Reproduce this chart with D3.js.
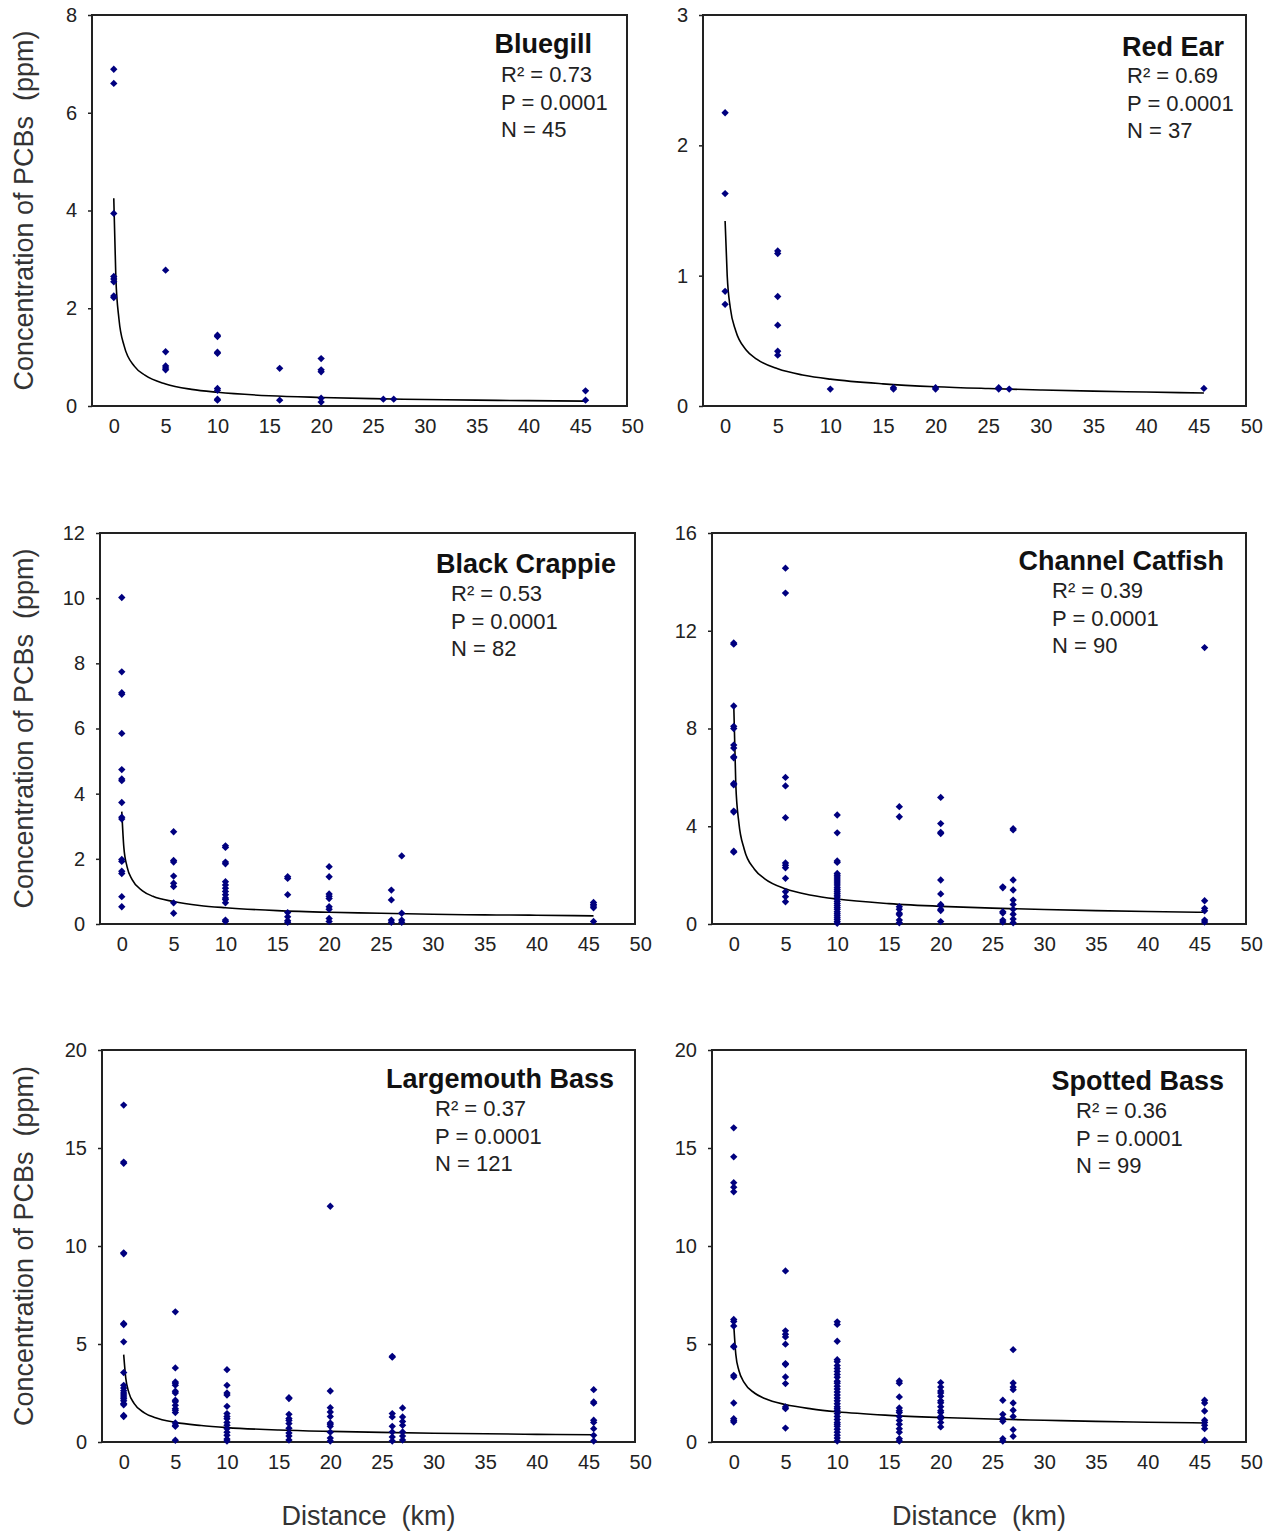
<!DOCTYPE html>
<html>
<head>
<meta charset="utf-8">
<script src="https://cdn.jsdelivr.net/npm/d3@7"></script>
<style>
  body { margin: 0; background: #fff; }
  text { font-family: "Liberation Sans", Arial, sans-serif; }
</style>
</head>
<body>
<div id="chart"></div>
<script>
// sampling sites along the river (km), shared by all six panels
const sites = [0, 5, 10, 16, 20, 26, 27, 45.5];
const xTicks = [0, 5, 10, 15, 20, 25, 30, 35, 40, 45, 50];

const species = ["Bluegill", "Red Ear", "Black Crappie", "Channel Catfish", "Largemouth Bass", "Spotted Bass"];
const r2 = ["0.73", "0.69", "0.53", "0.39", "0.37", "0.36"];
const pValues = ["0.0001", "0.0001", "0.0001", "0.0001", "0.0001", "0.0001"];
const nFish = [45, 37, 82, 90, 121, 99];
const yMax = [8, 3, 12, 16, 20, 20];
const yStep = [2, 1, 2, 4, 5, 5];

// PCB concentrations (ppm), one list per site
const bluegillPts = [
  [6.89, 6.6, 3.94, 2.65, 2.6, 2.54, 2.25, 2.22],
  [2.78, 1.11, 0.82, 0.78, 0.74],
  [1.45, 1.42, 1.1, 1.08, 0.36, 0.32, 0.14, 0.12],
  [0.77, 0.12],
  [0.97, 0.74, 0.7, 0.16, 0.08],
  [0.14],
  [0.14],
  [0.31, 0.12]
];
const redEarPts = [
  [2.25, 1.63, 0.88, 0.78],
  [1.19, 1.17, 0.84, 0.62, 0.42, 0.39],
  [0.13],
  [0.13, 0.14],
  [0.14, 0.13],
  [0.14, 0.13],
  [0.13],
  [0.135]
];
const crappiePts = [
  [10.02, 7.74, 7.1, 7.05, 5.85, 4.74, 4.45, 4.4, 3.73, 3.28, 3.22, 1.98, 1.92, 1.62, 1.55, 0.84, 0.53],
  [2.83, 1.95, 1.9, 1.47, 1.25, 1.15, 0.65, 0.33],
  [2.4, 2.35, 1.9, 1.85, 1.3, 1.2, 1.1, 1.0, 0.9, 0.8, 0.75, 0.65, 0.12, 0.08],
  [1.45, 1.4, 0.9, 0.35, 0.22, 0.1, 0.05],
  [1.76, 1.45, 0.92, 0.85, 0.78, 0.53, 0.45, 0.17, 0.08],
  [1.04, 0.74, 0.12, 0.05],
  [2.09, 0.33, 0.12, 0.05],
  [0.66, 0.6, 0.55, 0.5, 0.08]
];
const catfishPts = [
  [11.5, 11.45, 8.92, 8.09, 8.0, 7.32, 7.2, 6.84, 6.8, 5.75, 5.7, 4.62, 4.58, 2.98, 2.94],
  [14.56, 13.54, 6.0, 5.65, 4.35, 2.5, 2.4, 2.3, 1.87, 1.32, 1.12, 0.91],
  [4.46, 3.73, 2.58, 2.52, 2.07, 2.0, 1.92, 1.84, 1.76, 1.68, 1.6, 1.5, 1.42, 1.34, 1.26, 1.18,
   1.1, 1.0, 0.92, 0.84, 0.76, 0.68, 0.6, 0.5, 0.42, 0.34, 0.26, 0.18, 0.1, 0.03],
  [4.8, 4.39, 0.71, 0.6, 0.44, 0.38, 0.16, 0.05],
  [5.18, 4.11, 3.75, 3.7, 1.8, 1.23, 0.8, 0.75, 0.6, 0.55, 0.1],
  [1.52, 1.48, 0.5, 0.45, 0.16, 0.08],
  [3.9, 3.85, 1.8, 1.39, 0.98, 0.8, 0.6, 0.4, 0.2, 0.05],
  [11.31, 0.95, 0.64, 0.54, 0.16, 0.08]
];
const largemouthPts = [
  [17.19, 14.28, 14.22, 9.65, 9.6, 6.05, 5.99, 5.11, 3.54, 2.89, 2.75, 2.62, 2.5, 2.4, 2.3, 2.21, 2.1, 1.96, 1.9, 1.35, 1.3],
  [6.64, 3.78, 3.06, 3.0, 2.9, 2.59, 2.5, 2.13, 2.05, 1.87, 1.7, 1.62, 1.5, 0.97, 0.85, 0.8, 0.09],
  [3.69, 2.89, 2.5, 2.4, 1.82, 1.45, 1.3, 1.19, 1.0, 0.85, 0.68, 0.5, 0.34, 0.15, 0.05],
  [2.26, 2.22, 1.41, 1.2, 1.1, 0.94, 0.7, 0.46, 0.3, 0.1],
  [12.03, 2.6, 1.75, 1.53, 1.3, 0.97, 0.9, 0.8, 0.5, 0.2, 0.05],
  [4.37, 4.33, 1.45, 1.28, 0.8, 0.51, 0.26, 0.05],
  [1.74, 1.28, 1.05, 0.85, 0.51, 0.3, 0.1],
  [2.67, 2.04, 1.98, 1.11, 1.0, 0.68, 0.34, 0.05]
];
const spottedPts = [
  [16.03, 14.55, 13.23, 13.0, 12.77, 6.25, 6.15, 5.92, 4.89, 4.85, 3.4, 3.32, 1.99, 1.19, 1.1, 1.02],
  [8.73, 5.67, 5.5, 5.36, 4.99, 4.0, 3.95, 3.32, 2.98, 1.79, 1.7, 0.71],
  [6.13, 6.0, 5.14, 4.2, 4.1, 3.9, 3.75, 3.6, 3.45, 3.3, 3.1, 3.0, 2.85, 2.7, 2.55, 2.4, 2.25,
   2.1, 1.95, 1.8, 1.7, 1.6, 1.45, 1.3, 1.15, 1.0, 0.9, 0.8, 0.65, 0.5, 0.35, 0.2, 0.05],
  [3.11, 3.0, 2.3, 1.74, 1.6, 1.5, 1.3, 1.1, 0.9, 0.68, 0.5, 0.17, 0.05],
  [3.03, 2.8, 2.6, 2.5, 2.33, 2.1, 2.0, 1.8, 1.6, 1.5, 1.3, 1.2, 1.0, 0.77],
  [2.13, 1.41, 1.2, 1.06, 0.17, 0.05],
  [4.71, 3.01, 2.8, 2.67, 1.99, 1.62, 1.3, 0.63, 0.29],
  [2.13, 1.99, 1.58, 1.11, 1.0, 0.85, 0.68, 0.09]
];

// fitted trend lines at these distances
const trendKm = [0, 0.2, 0.5, 1, 2, 3, 5, 7.5, 10, 15, 20, 25, 30, 35, 40, 45.5];
const bluegillTrend   = [4.25, 2.63, 1.78, 1.23, 0.81, 0.63, 0.45, 0.34, 0.28, 0.21, 0.175, 0.15, 0.133, 0.12, 0.11, 0.10];
const redEarTrend     = [1.42, 1.0, 0.75, 0.58, 0.43, 0.36, 0.285, 0.236, 0.206, 0.17, 0.148, 0.134, 0.123, 0.114, 0.107, 0.10];
const crappieTrend    = [3.45, 2.35, 1.77, 1.36, 1.02, 0.85, 0.69, 0.57, 0.50, 0.41, 0.36, 0.33, 0.30, 0.28, 0.27, 0.25];
const catfishTrend    = [9.0, 5.7, 4.13, 3.08, 2.24, 1.85, 1.44, 1.18, 1.02, 0.835, 0.723, 0.648, 0.592, 0.548, 0.512, 0.48];
const largemouthTrend = [4.46, 3.26, 2.52, 1.97, 1.49, 1.25, 1.0, 0.84, 0.735, 0.61, 0.54, 0.49, 0.45, 0.42, 0.39, 0.37];
const spottedTrend    = [6.0, 4.47, 3.65, 3.04, 2.50, 2.22, 1.91, 1.69, 1.54, 1.36, 1.25, 1.17, 1.11, 1.05, 1.01, 0.97];

const pointSets = [bluegillPts, redEarPts, crappiePts, catfishPts, largemouthPts, spottedPts];
const trendSets = [bluegillTrend, redEarTrend, crappieTrend, catfishTrend, largemouthTrend, spottedTrend];

// panel layout (page pixels)
const layout = [
  { box: [92, 15, 535, 391],   title: [592, 53],    stats: [501, 82] },
  { box: [703, 15, 543, 391],  title: [1224, 56],   stats: [1127, 83] },
  { box: [100, 533, 535, 391], title: [616, 573],   stats: [451, 601] },
  { box: [712, 533, 534, 391], title: [1224, 570],  stats: [1052, 598] },
  { box: [102, 1050, 533, 392], title: [614, 1088], stats: [435, 1116] },
  { box: [712, 1050, 534, 392], title: [1224, 1090], stats: [1076, 1118] }
];
const xDomain = [-2.1, 49.5];
const font = '"Liberation Sans", Arial, sans-serif';

const svg = d3.select("#chart").append("svg")
  .attr("width", 1268)
  .attr("height", 1535);

species.forEach((name, i) => {
  const [bx, by, bw, bh] = layout[i].box;
  const x = d3.scaleLinear().domain(xDomain).range([bx, bx + bw]);
  const y = d3.scaleLinear().domain([0, yMax[i]]).range([by + bh, by]);

  // plot frame
  svg.append("rect")
    .attr("x", bx).attr("y", by)
    .attr("width", bw).attr("height", bh)
    .attr("fill", "#fff")
    .attr("stroke", "#222")
    .attr("stroke-width", 2);

  // axes (Excel style: labels, short y ticks only)
  const gx = svg.append("g")
    .attr("transform", `translate(0,${by + bh})`)
    .call(d3.axisBottom(x).tickValues(xTicks).tickSize(0).tickPadding(13));
  const gy = svg.append("g")
    .attr("transform", `translate(${bx},0)`)
    .call(d3.axisLeft(y)
      .tickValues(d3.range(0, yMax[i] + 0.001, yStep[i]))
      .tickFormat(d3.format("d"))
      .tickSize(4).tickPadding(11));
  [gx, gy].forEach(g => {
    g.select(".domain").remove();
    g.attr("font-size", 20).attr("font-family", font);
    g.selectAll("text").attr("fill", "#222");
    g.selectAll("line").attr("stroke", "#222").attr("stroke-width", 1.5);
  });

  // trend line
  const trend = trendKm.map((k, j) => [k, trendSets[i][j]]);
  svg.append("path")
    .datum(trend)
    .attr("fill", "none")
    .attr("stroke", "#000")
    .attr("stroke-width", 1.6)
    .attr("d", d3.line().x(d => x(d[0])).y(d => y(d[1])).curve(d3.curveMonotoneX));

  // fish samples
  const pts = pointSets[i].flatMap((vals, j) => vals.map(v => ({ km: sites[j], ppm: v })));
  svg.append("g").selectAll("path")
    .data(pts)
    .join("path")
    .attr("d", d3.symbol(d3.symbolSquare, 27))
    .attr("transform", d => `translate(${x(d.km)},${y(d.ppm)}) rotate(45)`)
    .attr("fill", "#00007f");

  // species label and statistics
  svg.append("text")
    .attr("x", layout[i].title[0]).attr("y", layout[i].title[1])
    .attr("text-anchor", "end")
    .attr("font-size", 27)
    .attr("font-weight", "bold")
    .attr("fill", "#111")
    .text(name);

  const stats = [`R² = ${r2[i]}`, `P = ${pValues[i]}`, `N = ${nFish[i]}`];
  svg.append("g").selectAll("text")
    .data(stats)
    .join("text")
    .attr("x", layout[i].stats[0])
    .attr("y", (d, j) => layout[i].stats[1] + j * 27.5)
    .attr("font-size", 22)
    .attr("fill", "#222")
    .text(d => d);

  // y title on the left column only
  if (i % 2 === 0) {
    svg.append("text")
      .attr("transform", `translate(33,${by + bh / 2}) rotate(-90)`)
      .attr("text-anchor", "middle")
      .attr("font-size", 27)
      .attr("fill", "#333")
      .style("white-space", "pre")
      .text("Concentration of PCBs  (ppm)");
  }
  // x title under the bottom row
  if (i >= 4) {
    svg.append("text")
      .attr("x", bx + bw / 2)
      .attr("y", 1525)
      .attr("text-anchor", "middle")
      .attr("font-size", 27)
      .attr("fill", "#333")
      .style("white-space", "pre")
      .text("Distance  (km)");
  }
});
</script>
</body>
</html>
